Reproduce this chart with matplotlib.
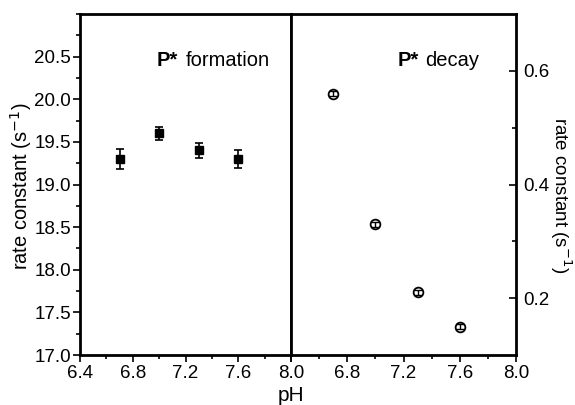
import matplotlib.pyplot as plt
from matplotlib.ticker import MultipleLocator, FixedLocator

plt.rcParams['font.family'] = ['Liberation Sans', 'DejaVu Sans']
plt.rcParams['font.size'] = 13.5

# data
ph = [6.7, 7.0, 7.3, 7.6]
k_form = [19.3, 19.6, 19.4, 19.3]
k_form_err = [0.12, 0.08, 0.09, 0.11]
k_decay = [0.56, 0.33, 0.21, 0.15]
k_decay_err = [0.004, 0.004, 0.004, 0.004]

fig = plt.figure(figsize=(5.75, 4.05), dpi=100)
ax1 = fig.add_axes([80 / 575, 50 / 405, 211 / 575, 341 / 405])
ax2 = fig.add_axes([291 / 575, 50 / 405, 225 / 575, 341 / 405])

# left panel: P* formation
ax1.errorbar(ph, k_form, yerr=k_form_err, fmt='s', color='black', ms=6,
             capsize=3, elinewidth=1.2, capthick=1.2)
ax1.set_xlim(6.4, 8.0)
ax1.set_ylim(17.0, 21.0)
ax1.xaxis.set_major_locator(MultipleLocator(0.4))
ax1.xaxis.set_minor_locator(MultipleLocator(0.2))
ax1.yaxis.set_major_locator(FixedLocator([17.0, 17.5, 18.0, 18.5, 19.0, 19.5, 20.0, 20.5]))
ax1.yaxis.set_minor_locator(MultipleLocator(0.25))
ax1.xaxis.set_major_formatter(plt.FormatStrFormatter('%.1f'))
ax1.yaxis.set_major_formatter(plt.FormatStrFormatter('%.1f'))
ax1.tick_params(which='both', direction='out', top=False, right=False, width=1.2)
ax1.tick_params(which='major', length=5)
ax1.tick_params(which='minor', length=3)
ax1.tick_params(axis='y', pad=1.5)
ax1.tick_params(axis='x', pad=2)
ax1.text(0.365, 0.865, 'P*', transform=ax1.transAxes, ha='left', va='center',
         fontweight='bold', fontsize=14.5)
ax1.text(0.50, 0.865, 'formation', transform=ax1.transAxes, ha='left',
         va='center', fontsize=14.5)

# right panel: P* decay
ax2.plot(ph, k_decay, 'o', mfc='white', mec='black', ms=7, mew=1.3, zorder=2)
ax2.errorbar(ph, k_decay, yerr=k_decay_err, fmt='none', ecolor='black',
             capsize=3, elinewidth=1.0, capthick=1.0, zorder=3)
ax2.set_xlim(6.4, 8.0)
ax2.set_ylim(0.1, 0.7)
ax2.xaxis.set_major_locator(FixedLocator([6.4, 6.8, 7.2, 7.6, 8.0]))
ax2.xaxis.set_minor_locator(MultipleLocator(0.2))
ax2.xaxis.set_major_formatter(
    plt.FuncFormatter(lambda v, p: '' if abs(v - 6.4) < 1e-6 else '%.1f' % v))
ax2.yaxis.set_major_locator(FixedLocator([0.2, 0.4, 0.6]))
ax2.yaxis.set_minor_locator(FixedLocator([0.3, 0.5]))
ax2.yaxis.set_major_formatter(plt.FormatStrFormatter('%.1f'))
ax2.yaxis.tick_right()
ax2.tick_params(which='both', top=False, left=False, width=1.2)
ax2.tick_params(axis='x', which='both', direction='out', pad=2)
ax2.tick_params(axis='y', which='both', direction='in', pad=5)
ax2.tick_params(which='major', length=5)
ax2.tick_params(which='minor', length=3)
ax2.text(0.476, 0.865, 'P*', transform=ax2.transAxes, ha='left', va='center',
         fontweight='bold', fontsize=14.5)
ax2.text(0.596, 0.865, 'decay', transform=ax2.transAxes, ha='left',
         va='center', fontsize=14.5)

for ax in (ax1, ax2):
    for s in ax.spines.values():
        s.set_linewidth(2.0)

# axis titles
ylab = 'rate constant (s$^{-1}$)'
fig.text(21 / 575, 1 - 186 / 405, ylab, rotation=90, ha='center', va='center',
         fontsize=14.5)
fig.text(561 / 575, 1 - 195 / 405, ylab, rotation=270, ha='center', va='center',
         fontsize=13.5)
fig.text(291 / 575, 0.0, 'pH', ha='center', va='bottom', fontsize=15)

fig.savefig('out.png', dpi=100)
